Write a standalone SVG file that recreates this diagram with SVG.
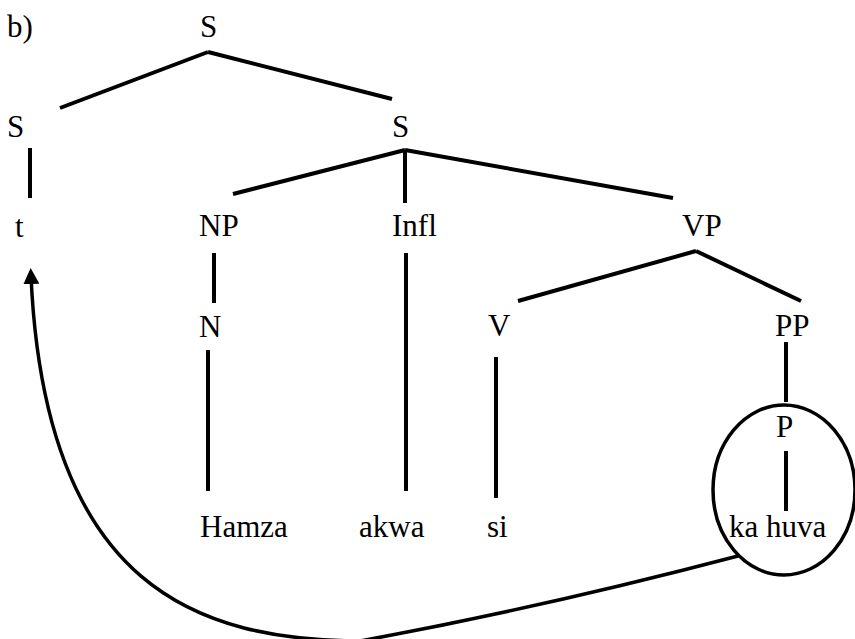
<svg xmlns="http://www.w3.org/2000/svg" width="855" height="639" viewBox="0 0 855 639">
  <style>
    .label { font-family: 'Liberation Serif', 'Times New Roman', Times, 'DejaVu Serif', serif; font-size: 31px; fill: #000; }
    .edge { stroke: #000; stroke-width: 4; fill: none; }
    .move { stroke: #000; stroke-width: 3.5; fill: none; }
  </style>
  <defs>
    <marker id="arrowhead" markerUnits="userSpaceOnUse" viewBox="0 0 16 16" refX="8" refY="8" markerWidth="16" markerHeight="16" orient="auto">
      <path d="M0,0 L16,8 L0,16 z" fill="#000"/>
    </marker>
  </defs>
  <rect width="855" height="639" fill="#fff"/>

  <g class="label" font-family="Liberation Serif, Times New Roman, serif">
    <text x="7" y="37">b)</text>

    <g id="node-s-root"><text x="200" y="37">S</text></g>
    <g id="node-s-left"><text x="7" y="137">S</text></g>
    <g id="node-s-right"><text x="392" y="137">S</text></g>
    <g id="node-t"><text x="15" y="237">t</text></g>
    <g id="node-np"><text x="199" y="236">NP</text></g>
    <g id="node-infl"><text x="392" y="236">Infl</text></g>
    <g id="node-vp"><text x="682" y="236">VP</text></g>
    <g id="node-n"><text x="199" y="337">N</text></g>
    <g id="node-v"><text x="488" y="336">V</text></g>
    <g id="node-pp"><text x="775" y="336">PP</text></g>
    <g id="node-p"><text x="776" y="437">P</text></g>
    <g id="node-hamza"><text x="200" y="537">Hamza</text></g>
    <g id="node-akwa"><text x="359" y="537">akwa</text></g>
    <g id="node-si"><text x="487" y="537">si</text></g>
    <g id="node-kahuva"><text x="729" y="537">ka huva</text></g>
  </g>

  <g id="connectors">
    <line class="edge" x1="208" y1="52" x2="60" y2="108"/>
    <line class="edge" x1="208" y1="52" x2="392" y2="99"/>
    <line class="edge" x1="30" y1="148" x2="30" y2="198"/>
    <line class="edge" x1="405" y1="150" x2="233" y2="194"/>
    <line class="edge" x1="405" y1="150" x2="405" y2="203"/>
    <line class="edge" x1="405" y1="150" x2="673" y2="198"/>
    <line class="edge" x1="214" y1="253" x2="214" y2="303"/>
    <line class="edge" x1="208" y1="350" x2="208" y2="491"/>
    <line class="edge" x1="406" y1="253" x2="406" y2="491"/>
    <line class="edge" x1="696" y1="251" x2="518" y2="301"/>
    <line class="edge" x1="696" y1="251" x2="801" y2="301"/>
    <line class="edge" x1="496" y1="357" x2="496" y2="498"/>
    <line class="edge" x1="786" y1="342" x2="786" y2="402"/>
    <line class="edge" x1="786" y1="451" x2="786" y2="511"/>
    <ellipse class="move" cx="784" cy="490" rx="71" ry="85"/>
    <path class="move" d="M738,556 Q540,608 360,641 C200,640 45,590 31,276" marker-end="url(#arrowhead)"/>
  </g>
</svg>
